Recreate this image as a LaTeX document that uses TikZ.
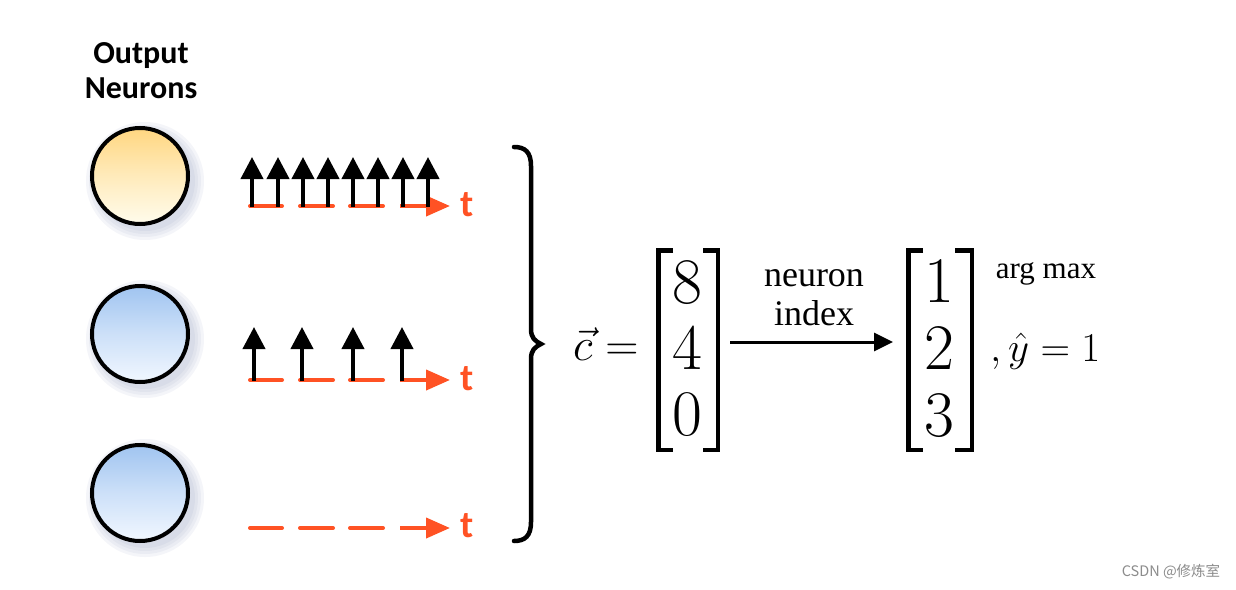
\RequirePackage{fix-cm}
\documentclass[tikz,border=0pt]{standalone}
\usepackage{amsmath}
\usepackage{fontspec}
\newfontfamily\carlito{Carlito}
\newfontfamily\serifb{Liberation Serif}
\newfontfamily\cjk{Noto Sans CJK SC}
\usetikzlibrary{arrows.meta}
\definecolor{spikered}{RGB}{255,82,36}
\definecolor{ytop}{RGB}{255,214,128}
\definecolor{ybot}{RGB}{255,252,236}
\definecolor{btop}{RGB}{160,196,240}
\definecolor{bbot}{RGB}{241,247,255}
\definecolor{shadowc}{RGB}{110,125,170}
\tikzset{
  neuron/.style={circle, draw=black, line width=4pt, minimum size=96pt, inner sep=0pt},
  yellowfill/.style={top color=ytop, bottom color=ybot, middle color=ytop!45!ybot},
  bluefill/.style={top color=btop, bottom color=bbot, middle color=btop!45!bbot},
  spike/.style={line width=4pt, -{Triangle[width=22pt,length=22pt]}},
  axisdash/.style={draw=spikered, line width=4pt, line cap=round},
  axisarrow/.style={draw=spikered, line width=4pt, -{Triangle[width=20pt,length=24pt]}},
  tlabel/.style={text=spikered, font=\carlito\bfseries\fontsize{38}{38}\selectfont, inner sep=0pt},
  digit/.style={inner sep=0pt, font=\fontsize{65}{67}\selectfont},
  bracket/.style={line width=4.5pt, line cap=butt, line join=miter},
  midmath/.style={inner sep=0pt, font=\fontsize{46}{50}\selectfont},
  smallmath/.style={inner sep=0pt, font=\fontsize{41}{44}\selectfont},
  lbl/.style={inner sep=0pt, font=\serifb\fontsize{36}{40}\selectfont},
  conn/.style={line width=3pt, -{Triangle[width=18pt,length=19pt]}},
}
\begin{document}
\begin{tikzpicture}[x=1pt,y=-1pt]
\useasboundingbox (0,0) rectangle (1236,589);
\fill[white] (0,0) rectangle (1236,589);

% title
\node[font=\carlito\bfseries\fontsize{32}{35}\selectfont, align=center, inner sep=0pt] (title) at (141,71) {Output\\Neurons};

% shadows
\foreach \cy in {176,334,493}{
  \foreach \r in {59,56,53,50}{
    \fill[shadowc, opacity=0.07] (145,\cy+5) circle[radius=\r];
  }
}

% neurons
\node[neuron, yellowfill] (n1) at (140,176) {};
\node[neuron, bluefill] (n2) at (140,334) {};
\node[neuron, bluefill] (n3) at (140,493) {};

% row 1 train
\foreach \a/\b in {250/282,300/333,350/383} \draw[axisdash] (\a,206) -- (\b,206);
\coordinate (r1s) at (400,206);
\coordinate (r1e) at (450,206);
\draw[axisarrow] (r1s) -- (r1e);
\foreach \x in {252,278,303,328,353,378,403,428} \draw[spike] (\x,207) -- (\x,157);
\node[tlabel] (t1) at (467,205) {t};

% row 2 train
\foreach \a/\b in {250/282,300/333,350/383} \draw[axisdash] (\a,380) -- (\b,380);
\coordinate (r2s) at (400,380);
\coordinate (r2e) at (450,380);
\draw[axisarrow] (r2s) -- (r2e);
\foreach \x in {254,302,353,402} \draw[spike] (\x,381) -- (\x,327);
\node[tlabel] (t2) at (467,379) {t};

% row 3 train
\foreach \a/\b in {250/282,300/333,350/383} \draw[axisdash] (\a,528) -- (\b,528);
\coordinate (r3s) at (400,528);
\coordinate (r3e) at (450,528);
\draw[axisarrow] (r3s) -- (r3e);
\node[tlabel] (t3) at (467,526) {t};

% brace
\draw[line width=4.5pt, line cap=round]
  (514,147) .. controls (525,147) and (531,152) .. (531,166)
  -- (531,329) .. controls (531,338) and (535,341) .. (541,344)
  .. controls (535,347) and (531,350) .. (531,359)
  -- (531,522) .. controls (531,536) and (525,541) .. (514,541);

% equation
\node[midmath, anchor=base west] (ceq) at (573,360) {$\vec{c}=$};

% matrix 1
\draw[bracket] (673,250.25) -- (658.25,250.25) -- (658.25,449.75) -- (673,449.75);
\draw[bracket] (703,250.25) -- (717.75,250.25) -- (717.75,449.75) -- (703,449.75);
\node[digit] (d8) at (687.5,283) {$8$};
\node[digit] (d4) at (687.5,348.5) {$4$};
\node[digit] (d0) at (687.5,415) {$0$};

% matrix 2
\draw[bracket] (923,250.25) -- (908.25,250.25) -- (908.25,449.75) -- (923,449.75);
\draw[bracket] (955,250.25) -- (971.75,250.25) -- (971.75,449.75) -- (955,449.75);
\node[digit] (d1) at (939.5,281.5) {$1$};
\node[digit] (d2) at (939.5,348.5) {$2$};
\node[digit] (d3) at (939.5,415.5) {$3$};

\coordinate (as) at (730,342);
\coordinate (ae) at (893,342);
\draw[conn] (as) -- (ae);
\node[lbl, anchor=base] (l1) at (814,286) {neuron};
\node[lbl, anchor=base] (l2) at (814,325) {index};
\node[inner sep=0pt, anchor=base, font=\serifb\fontsize{31}{34}\selectfont] (am) at (1046,278) {arg max};
\node[smallmath, anchor=base west] (yh) at (990,361) {$,\hat{y}=1$};

% watermark
\node[text=black!45, font=\cjk\fontsize{14.5}{15}\selectfont, inner sep=0pt] (wm) at (1171,572) {CSDN @修炼室};
\end{tikzpicture}
\end{document}
